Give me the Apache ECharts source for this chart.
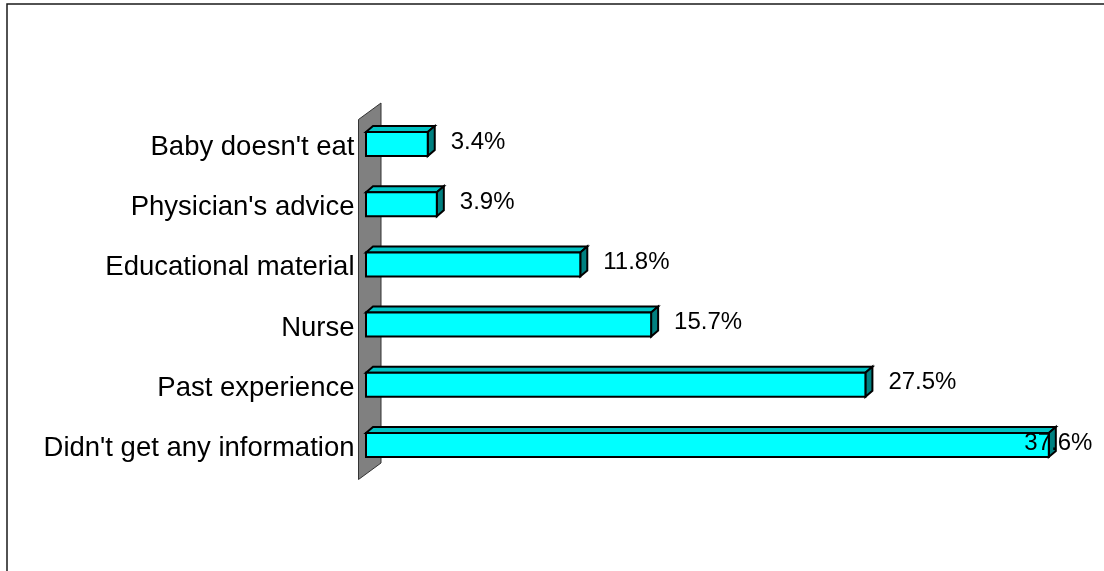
<!DOCTYPE html>
<html><head><meta charset="utf-8">
<script src="https://cdn.jsdelivr.net/npm/echarts@6/dist/echarts.min.js"></script>
<style>html,body{margin:0;padding:0;background:#fff}#c{width:1104px;height:571px}</style>
</head><body><div id="c"></div>
<script>
const categories = ["Baby doesn't eat", "Physician's advice", "Educational material", "Nurse", "Past experience", "Didn't get any information"];
const values = [3.4, 3.9, 11.8, 15.7, 27.5, 37.6];
const valueLabels = ["3.4%", "3.9%", "11.8%", "15.7%", "27.5%", "37.6%"];

const FONT = '"Liberation Sans", Arial, sans-serif';
const DX = 7, DY = -6, BAR_H = 24, VAL_FS = 24, SHIFT = -3.5;
const measure = (function () {
  const ctx = document.createElement('canvas').getContext('2d');
  return function (t, size) { ctx.font = size + 'px ' + FONT; return ctx.measureText(t).width; };
})();

function renderWall(params, api) {
  const cs = params.coordSys;
  const x0 = api.coord([0, 0])[0];
  const xl = x0 - 7.5, xr = xl + 22.5;
  const yt = cs.y + 5.5 + SHIFT, yb = cs.y + cs.height + 4.5 + SHIFT;
  return {
    type: 'polygon',
    shape: { points: [[xl, yt], [xr, yt - 16.5], [xr, yb - 16.5], [xl, yb]] },
    style: { fill: '#808080', stroke: '#333333', lineWidth: 1 }
  };
}

function renderBar(params, api) {
  const v = api.value(0), ci = api.value(1);
  const p0 = api.coord([0, ci]), p1 = api.coord([v, ci]);
  const cy = p0[1] + SHIFT, x0 = p0[0], x1 = p1[0];
  const top = cy - BAR_H / 2, bot = cy + BAR_H / 2;
  const cs = params.coordSys;
  const lbl = valueLabels[params.dataIndex];
  const w = measure(lbl, VAL_FS);
  let lx = x1 + 23, align = 'left';
  const limit = cs.x + cs.width;
  if (lx + w > limit) { lx = limit; align = 'right'; }
  return {
    type: 'group',
    children: [
      { type: 'polygon', shape: { points: [[x0, top], [x0 + DX, top + DY], [x1 + DX, top + DY], [x1, top]] },
        style: { fill: '#00C4C4', stroke: '#000', lineWidth: 2, lineJoin: 'miter' } },
      { type: 'polygon', shape: { points: [[x1, top], [x1 + DX, top + DY], [x1 + DX, bot + DY], [x1, bot]] },
        style: { fill: '#008080', stroke: '#000', lineWidth: 2 } },
      { type: 'rect', shape: { x: x0, y: top, width: x1 - x0, height: BAR_H },
        style: { fill: '#00FFFF', stroke: '#000', lineWidth: 2 } },
      { type: 'text', z2: 10,
        style: { text: lbl, x: lx, y: cy - 2, align: align, verticalAlign: 'middle',
                 fontSize: VAL_FS, fontFamily: FONT, fill: '#000' } }
    ]
  };
}

const chart = echarts.init(document.getElementById('c'), null, { renderer: 'canvas' });
chart.setOption({
  animation: false,
  backgroundColor: '#fff',
  graphic: [{
    type: 'rect', silent: true, z: -10,
    shape: { x: 7, y: 4, width: 1300, height: 1000 },
    style: { fill: 'none', stroke: '#1a1a1a', lineWidth: 1.5 }
  }],
  grid: { left: 366, right: 11.6, top: 117.5, bottom: 92.5, containLabel: false, outerBoundsMode: 'none' },
  xAxis: { type: 'value', min: 0, max: 40, show: false },
  yAxis: {
    type: 'category', data: categories, inverse: true,
    axisLine: { show: false }, axisTick: { show: false }, splitLine: { show: false },
    axisLabel: { fontSize: 27.5, fontFamily: FONT, color: '#000', margin: 11.5 }
  },
  series: [
    { type: 'custom', name: 'wall', z: 1, clip: false, silent: true, data: [[0, 0]],
      encode: { x: 0, y: 1 }, renderItem: renderWall },
    { type: 'custom', name: 'bars', z: 2, clip: false,
      data: values.map(function (v, i) { return [v, i]; }),
      encode: { x: 0, y: 1 }, renderItem: renderBar }
  ]
});
</script>
</body></html>
